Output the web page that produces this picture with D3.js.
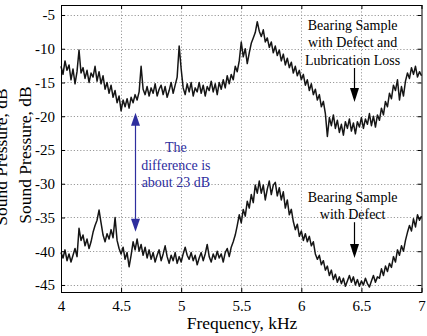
<!DOCTYPE html>
<html>
<head>
<meta charset="utf-8">
<script src="https://cdn.jsdelivr.net/npm/d3@7"></script>
<style>
  body { margin: 0; background: #fff; }
  svg { display: block; font-family: "Liberation Serif", "Times New Roman", serif; }
</style>
</head>
<body>
<div id="chart"></div>
<script>
// spectrum sampled on a 1/60 kHz grid from 4 to 7 kHz
const freqStart = 4, freqStep = 1 / 60;

// Bearing sample with defect and lubrication loss (dB)
const lubLoss = [
  -12.6, -13.8, -11.8, -13.2, -12.4, -14.6, -13.0, -15.2, -13.4, -10.2,
  -13.6, -12.8, -14.4, -13.2, -15.0, -13.6, -14.2, -12.6, -14.8, -13.4,
  -15.2, -14.0, -16.0, -15.0, -16.6, -15.4, -17.2, -16.2, -18.0, -17.0,
  -19.2, -17.6, -18.6, -17.4, -18.8, -17.2, -18.0, -16.8, -17.6, -16.4,
  -12.6, -16.0, -16.8, -15.6, -17.0, -15.8, -16.6, -15.2, -17.0, -16.0,
  -15.4, -16.8, -15.6, -17.2, -16.2, -15.0, -16.6, -15.4, -14.2, -9.6,
  -13.0, -15.8, -16.8, -15.2, -16.4, -15.0, -17.0, -15.8, -16.4, -15.0,
  -16.6, -15.4, -17.0, -15.6, -16.2, -14.8, -16.4, -15.2, -16.8, -15.0,
  -16.0, -14.6, -15.8, -14.0, -15.2, -13.8, -14.6, -12.6, -13.4, -11.8,
  -9.0, -11.2, -10.0, -12.2, -10.6, -9.2, -8.4, -7.6, -6.0, -7.4,
  -8.2, -7.2, -9.0, -8.4, -9.8, -9.0, -10.6, -9.6, -11.0, -10.2,
  -11.8, -10.8, -12.4, -11.4, -12.8, -12.0, -13.6, -12.6, -14.0, -13.2,
  -14.6, -13.8, -15.4, -14.6, -16.2, -15.2, -16.8, -16.0, -17.6, -16.8,
  -18.6, -17.8, -19.6, -23.0, -20.2, -21.4, -19.8, -21.8, -20.6, -22.4,
  -21.2, -22.8, -20.8, -21.8, -20.4, -22.2, -21.0, -22.6, -20.8, -21.6,
  -20.2, -21.8, -20.4, -21.2, -19.6, -21.4, -20.0, -21.6, -19.8, -20.6,
  -18.8, -19.8, -17.8, -18.6, -16.6, -17.4, -15.4, -16.2, -14.6, -17.6,
  -15.6, -17.0, -14.8, -13.6, -14.4, -12.8, -13.8, -12.6, -14.2, -13.4,
  -14.0
];

// Bearing sample with defect (dB)
const defect = [
  -40.2, -41.0, -39.8, -41.4, -40.4, -41.6, -40.6, -39.6, -40.8, -36.6,
  -38.4, -37.6, -39.2, -38.2, -39.6, -38.6, -37.2, -36.2, -35.4, -33.9,
  -35.8, -37.6, -38.6, -37.4, -38.2, -36.8, -38.0, -35.0, -38.4, -39.6,
  -40.4, -39.4, -41.2, -40.2, -42.3, -40.6, -38.6, -39.8, -38.2, -40.0,
  -39.0, -40.6, -39.4, -41.0, -39.8, -41.2, -40.2, -41.6, -40.6, -39.8,
  -41.4, -40.4, -39.2, -40.8, -41.8, -40.6, -41.4, -40.2, -41.8, -40.8,
  -41.6, -40.4, -39.4, -40.6, -41.2, -40.2, -41.4, -40.6, -42.0, -41.0,
  -40.2, -41.4, -40.4, -39.0, -40.8, -41.6, -40.4, -41.2, -40.0, -41.0,
  -40.4, -41.6, -40.2, -39.6, -40.8, -39.4, -38.6, -37.6, -36.2, -34.6,
  -35.8, -33.8, -34.8, -32.6, -33.6, -31.6, -32.8, -30.2, -31.4, -29.6,
  -31.4, -30.2, -32.4, -30.8, -29.6, -31.6, -30.2, -29.8, -31.8, -30.6,
  -32.4, -31.2, -33.6, -32.4, -34.6, -33.8, -35.6, -36.8, -36.0, -37.8,
  -37.0, -38.4, -37.4, -38.6, -37.8, -39.2, -38.6, -40.4, -41.2, -40.6,
  -42.0, -41.4, -42.8, -42.2, -43.6, -42.8, -44.2, -43.4, -44.6, -43.8,
  -44.8, -44.0, -45.2, -44.4, -43.6, -44.6, -43.8, -45.0, -44.2, -45.2,
  -44.4, -45.0, -44.0, -44.8, -45.3, -44.4, -43.6, -44.6, -43.8, -44.0,
  -42.6, -43.6, -42.2, -43.0, -41.8, -42.4, -40.8, -41.6, -39.8, -40.6,
  -39.2, -40.0, -38.4, -37.2, -36.2, -37.0, -35.2, -36.4, -34.6, -35.4,
  -34.8
];

const xTicks = [4, 4.5, 5, 5.5, 6, 6.5, 7];
const yTicks = [-5, -10, -15, -20, -25, -30, -35, -40, -45];

const upperNote = ["Bearing Sample", "with Defect and", "Lubrication Loss"];
const lowerNote = ["Bearing Sample", "with Defect"];
const diffNote = ["The", "difference is", "about 23 dB"];

const width = 427, height = 336;
const marginTop = 5, marginRight = 5, marginBottom = 44, marginLeft = 61;

const x = d3.scaleLinear()
  .domain([4, 7])
  .range([marginLeft, width - marginRight - 0.5]);

const y = d3.scaleLinear()
  .domain([-46.04, -3.52])
  .range([height - marginBottom, marginTop]);

const svg = d3.select("#chart").append("svg")
  .attr("width", width)
  .attr("height", height)
  .attr("viewBox", [0, 0, width, height]);

// grid
svg.append("g")
  .selectAll("line")
  .data(yTicks)
  .join("line")
    .attr("x1", x(4)).attr("x2", x(7))
    .attr("y1", d => Math.round(y(d)) + 0.5).attr("y2", d => Math.round(y(d)) + 0.5)
    .attr("stroke", "#9a9a9a")
    .attr("stroke-dasharray", "1.2,2");

svg.append("g")
  .selectAll("line")
  .data(xTicks.slice(1, -1))
  .join("line")
    .attr("x1", d => Math.round(x(d)) + 0.5).attr("x2", d => Math.round(x(d)) + 0.5)
    .attr("y1", y.range()[1]).attr("y2", y.range()[0])
    .attr("stroke", "#9a9a9a")
    .attr("stroke-dasharray", "1.2,2");

// the two spectra
const line = d3.line()
  .x((d, i) => x(freqStart + i * freqStep))
  .y(d => y(d));

[lubLoss, defect].forEach(s => {
  svg.append("path")
    .datum(s)
    .attr("fill", "none")
    .attr("stroke", "#151515")
    .attr("stroke-width", 1.5)
    .attr("stroke-linejoin", "round")
    .attr("d", line);
});

// axes (ticks pointing inward, like matlab)
const tickFmt = d => String(d);
svg.append("g")
  .attr("transform", `translate(0,${y.range()[0]})`)
  .call(d3.axisBottom(x).tickValues(xTicks).tickFormat(tickFmt).tickSize(-4).tickSizeOuter(0).tickPadding(8))
  .call(g => g.select(".domain").remove())
  .call(g => g.selectAll("text").attr("font-size", 15).attr("font-family", "Liberation Serif").attr("fill", "#000"));

svg.append("g")
  .attr("transform", `translate(${marginLeft},0)`)
  .call(d3.axisLeft(y).tickValues(yTicks).tickFormat(tickFmt).tickSize(-4).tickSizeOuter(0).tickPadding(6))
  .call(g => g.select(".domain").remove())
  .call(g => g.selectAll("text").attr("font-size", 15).attr("font-family", "Liberation Serif").attr("fill", "#000"));

svg.append("g")
  .attr("transform", `translate(0,${y.range()[1]})`)
  .call(d3.axisTop(x).tickValues(xTicks).tickFormat("").tickSize(-4).tickSizeOuter(0))
  .call(g => g.select(".domain").remove());

svg.append("g")
  .attr("transform", `translate(${x.range()[1]},0)`)
  .call(d3.axisRight(y).tickValues(yTicks).tickFormat("").tickSize(-4).tickSizeOuter(0))
  .call(g => g.select(".domain").remove());

// box
svg.append("rect")
  .attr("x", x.range()[0] + 0.5)
  .attr("y", y.range()[1] + 0.5)
  .attr("width", x.range()[1] - x.range()[0])
  .attr("height", y.range()[0] - y.range()[1])
  .attr("fill", "none")
  .attr("stroke", "#000")
  .attr("stroke-width", 1);

// axis titles
svg.append("text")
  .attr("x", 242).attr("y", 329)
  .attr("text-anchor", "middle")
  .attr("font-size", 17.5)
  .text("Frequency, kHz");

// the source figure shows this label twice, the outer copy cut by the edge
[31, 7].forEach((bx, k) => {
  svg.append("text")
    .attr("transform", `translate(${bx},${155 + k * 2}) rotate(-90)`)
    .attr("text-anchor", "middle")
    .attr("font-size", 17.5)
    .text("Sound Pressure, dB");
});

// arrows
function arrowHead(xp, yp, dir, color, w, h) {
  svg.append("path")
    .attr("d", `M${xp},${yp}L${xp - w / 2},${yp - dir * h}L${xp + w / 2},${yp - dir * h}Z`)
    .attr("fill", color);
}

const blue = "#2e2e9e";
const ax = Math.round(x(4.615)) + 0.5;
svg.append("line")
  .attr("x1", ax).attr("x2", ax)
  .attr("y1", y(-19.5) + 10).attr("y2", y(-37.1) - 10)
  .attr("stroke", blue).attr("stroke-width", 1.2);
arrowHead(ax, y(-19.5), -1, blue, 9, 13);
arrowHead(ax, y(-37.1), 1, blue, 9, 13);

const bx = Math.round(x(6.435)) + 0.5;
[[-12.85, -17.9], [-35.7, -41.0]].forEach(([a, b]) => {
  svg.append("line")
    .attr("x1", bx).attr("x2", bx)
    .attr("y1", y(a)).attr("y2", y(b) - 10)
    .attr("stroke", "#000").attr("stroke-width", 1.2);
  arrowHead(bx, y(b), 1, "#000", 9, 14);
});

// notes
function note(lines, xv, yv, color) {
  const t = svg.append("text")
    .attr("x", x(xv)).attr("y", y(yv))
    .attr("text-anchor", "middle")
    .attr("font-size", 14)
    .attr("fill", color);
  t.selectAll("tspan")
    .data(lines)
    .join("tspan")
      .attr("x", x(xv))
      .attr("dy", (d, i) => i === 0 ? 0 : 17.5)
      .text(d => d);
}

note(upperNote, 6.427, -7.2, "#000");
note(lowerNote, 6.427, -32.7, "#000");
note(diffNote, 4.956, -25.3, blue);
</script>
</body>
</html>
